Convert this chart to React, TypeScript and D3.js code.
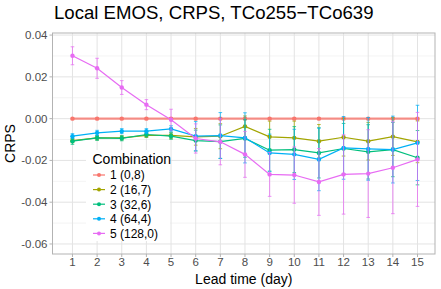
//@ts-nocheck
import { useEffect, useRef } from 'react';
import * as d3 from 'd3';

// lead times (days)
const leadTimes = [1, 2, 3, 4, 5, 6, 7, 8, 9, 10, 11, 12, 13, 14, 15];

const combos = ['1 (0,8)', '2 (16,7)', '3 (32,6)', '4 (64,4)', '5 (128,0)'];
const colors = ['#F8766D', '#A3A500', '#00BF7D', '#00B0F6', '#E76BF3'];

// mean CRPS skill per combination
const crps1 = [0, 0, 0, 0, 0, 0, 0, 0, 0, 0, 0, 0, 0, 0, 0];
const crps2 = [-0.0105, -0.0092, -0.0092, -0.008, -0.008, -0.0087, -0.0084, -0.0037, -0.0087, -0.0092, -0.0108, -0.0089, -0.0108, -0.0086, -0.0111];
const crps3 = [-0.0108, -0.0092, -0.0094, -0.0076, -0.0084, -0.0105, -0.011, -0.0095, -0.0151, -0.0148, -0.0164, -0.0143, -0.0159, -0.0148, -0.0187];
const crps4 = [-0.0084, -0.0068, -0.006, -0.006, -0.0049, -0.0084, -0.0081, -0.0092, -0.0164, -0.0171, -0.0195, -0.014, -0.0145, -0.0148, -0.0116];
const crps5 = [0.0301, 0.0241, 0.0149, 0.0067, -0.0005, -0.0095, -0.0111, -0.0171, -0.0267, -0.027, -0.0303, -0.0267, -0.0263, -0.0235, -0.0195];

// error bar half widths
const err1 = [0.0003, 0.0003, 0.0003, 0.0003, 0.0003, 0.0003, 0.0003, 0.0003, 0.0003, 0.0003, 0.0003, 0.0003, 0.0003, 0.0003, 0.0003];
const err2 = [0.001, 0.001, 0.001, 0.001, 0.0015, 0.004, 0.006, 0.005, 0.0075, 0.008, 0.008, 0.009, 0.009, 0.009, 0.01];
const err3 = [0.0015, 0.0012, 0.0012, 0.0012, 0.0015, 0.005, 0.008, 0.009, 0.01, 0.011, 0.012, 0.012, 0.013, 0.013, 0.013];
const err4 = [0.0012, 0.0012, 0.0012, 0.0012, 0.0015, 0.007, 0.011, 0.012, 0.009, 0.012, 0.015, 0.015, 0.015, 0.016, 0.018];
const err5 = [0.0043, 0.0048, 0.0033, 0.0024, 0.005, 0.007, 0.011, 0.011, 0.0105, 0.0135, 0.016, 0.019, 0.021, 0.022, 0.0225];

const yTicks = [0.04, 0.02, 0.0, -0.02, -0.04, -0.06];
const yMinor = [0.03, 0.01, -0.01, -0.03, -0.05];

const App = () => {
    const svgRef = useRef();

    useEffect(() => {
        const svg = d3.select(svgRef.current);
        svg.selectAll('*').remove();
        const font = 'Liberation Sans, Arial, sans-serif';

        const left = 52.5, right = 435, top = 33, bottom = 254;
        const x = d3.scaleLinear().domain([0.19, 15.71]).range([left, right]);
        const y = d3.scaleLinear().domain([-0.0648, 0.041]).range([bottom, top]);

        svg.append('rect').attr('width', 441).attr('height', 289).attr('fill', '#fff');

        // grid
        const grid = svg.append('g');
        yMinor.forEach(v => grid.append('line')
            .attr('x1', left).attr('x2', right).attr('y1', y(v)).attr('y2', y(v))
            .attr('stroke', '#EBEBEB').attr('stroke-width', 0.6));
        yTicks.forEach(v => grid.append('line')
            .attr('x1', left).attr('x2', right).attr('y1', y(v)).attr('y2', y(v))
            .attr('stroke', '#E3E3E3').attr('stroke-width', 1));
        leadTimes.forEach(v => grid.append('line')
            .attr('x1', x(v)).attr('x2', x(v)).attr('y1', top).attr('y2', bottom)
            .attr('stroke', '#E3E3E3').attr('stroke-width', 1));

        // series
        const series = [
            { m: crps1, e: err1 },
            { m: crps2, e: err2 },
            { m: crps3, e: err3 },
            { m: crps4, e: err4 },
            { m: crps5, e: err5 },
        ];
        const line = d3.line().x((d, i) => x(leadTimes[i])).y(d => y(d));
        series.forEach((s, k) => {
            const g = svg.append('g');
            g.append('path').attr('d', line(s.m)).attr('fill', 'none')
                .attr('stroke', colors[k]).attr('stroke-width', k === 0 ? 2.2 : 1.2)
                .attr('stroke-opacity', k === 0 ? 0.8 : 1);
            s.m.forEach((v, i) => {
                const cx = x(leadTimes[i]);
                const lo = y(v - s.e[i]), hi = y(v + s.e[i]);
                const eb = g.append('g').attr('stroke', colors[k]).attr('stroke-opacity', 0.75).attr('stroke-width', 1);
                eb.append('line').attr('x1', cx).attr('x2', cx).attr('y1', lo).attr('y2', hi);
                eb.append('line').attr('x1', cx - 1.8).attr('x2', cx + 1.8).attr('y1', lo).attr('y2', lo);
                eb.append('line').attr('x1', cx - 1.8).attr('x2', cx + 1.8).attr('y1', hi).attr('y2', hi);
                g.append('circle').attr('cx', cx).attr('cy', y(v)).attr('r', 2.2).attr('fill', colors[k]);
            });
        });

        // panel border
        svg.append('rect').attr('x', left).attr('y', top).attr('width', right - left).attr('height', bottom - top)
            .attr('fill', 'none').attr('stroke', '#B3B3B3').attr('stroke-width', 1);

        // y axis
        yTicks.forEach(v => {
            svg.append('line').attr('x1', left - 3).attr('x2', left).attr('y1', y(v)).attr('y2', y(v))
                .attr('stroke', '#B3B3B3');
            svg.append('text').attr('x', left - 5).attr('y', y(v)).attr('dy', '0.35em')
                .attr('text-anchor', 'end').attr('font-family', font).attr('font-size', 11.5)
                .attr('fill', '#4D4D4D').text(d3.format('.2f')(v).replace('−', '-'));
        });
        // x axis
        leadTimes.forEach(v => {
            svg.append('line').attr('x1', x(v)).attr('x2', x(v)).attr('y1', bottom).attr('y2', bottom + 3)
                .attr('stroke', '#B3B3B3');
            svg.append('text').attr('x', x(v)).attr('y', 265.5)
                .attr('text-anchor', 'middle').attr('font-family', font).attr('font-size', 11.5)
                .attr('fill', '#4D4D4D').text(v);
        });

        // titles
        svg.append('text').attr('x', 54).attr('y', 19).attr('font-family', font).attr('font-size', 18.6)
            .attr('fill', '#000').text('Local EMOS, CRPS, TCo255−TCo639');
        svg.append('text').attr('x', (left + right) / 2).attr('y', 284).attr('text-anchor', 'middle')
            .attr('font-family', font).attr('font-size', 14).attr('fill', '#000').text('Lead time (day)');
        svg.append('text').attr('transform', `translate(15, ${(top + bottom) / 2}) rotate(-90)`)
            .attr('text-anchor', 'middle').attr('font-family', font).attr('font-size', 14)
            .attr('fill', '#000').text('CRPS');

        // legend
        const lg = svg.append('g');
        lg.append('rect').attr('x', 86).attr('y', 150).attr('width', 84).attr('height', 91).attr('fill', '#fff');
        lg.append('text').attr('x', 92.5).attr('y', 163.5).attr('font-family', font).attr('font-size', 14)
            .attr('fill', '#000').text('Combination');
        combos.forEach((c, i) => {
            const cy = 175 + i * 14.6;
            lg.append('line').attr('x1', 93).attr('x2', 105).attr('y1', cy).attr('y2', cy)
                .attr('stroke', colors[i]).attr('stroke-width', 1.2);
            lg.append('circle').attr('cx', 99).attr('cy', cy).attr('r', 2).attr('fill', colors[i]);
            lg.append('text').attr('x', 110).attr('y', cy).attr('dy', '0.36em').attr('font-family', font)
                .attr('font-size', 12).attr('fill', '#000').text(c);
        });
    }, []);

    return (
        <svg ref={svgRef} width={441} height={289} style={{ position: 'absolute', left: 0, top: 0 }}></svg>
    );
};

export default App;
